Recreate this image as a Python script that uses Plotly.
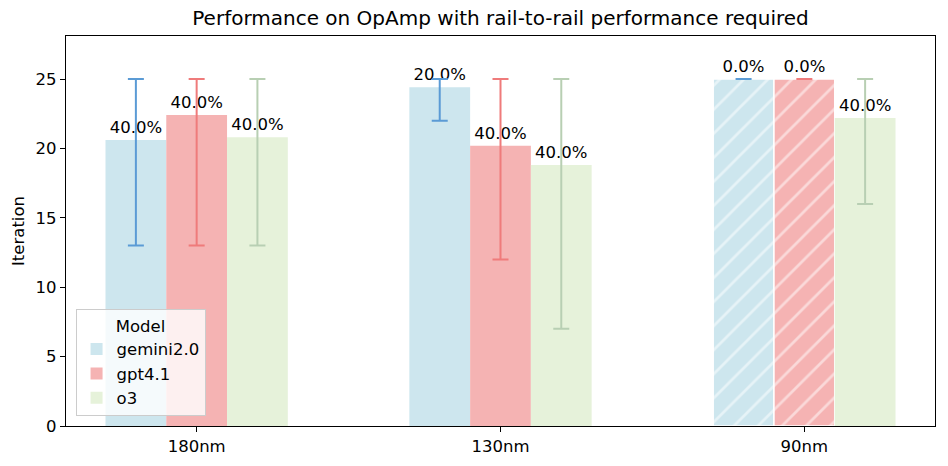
import plotly.graph_objects as go

categories = ["180nm", "130nm", "90nm"]
models = ["gemini2.0", "gpt4.1", "o3"]

mean_iter = {
    "gemini2.0": [20.6, 24.4, 25.0],
    "gpt4.1": [22.4, 20.2, 25.0],
    "o3": [20.8, 18.8, 22.2],
}
min_iter = {
    "gemini2.0": [13, 22, 25],
    "gpt4.1": [13, 12, 25],
    "o3": [13, 7, 16],
}
max_iter = {
    "gemini2.0": [25, 25, 25],
    "gpt4.1": [25, 25, 25],
    "o3": [25, 25, 25],
}
success_rate = {
    "gemini2.0": [40.0, 20.0, 0.0],
    "gpt4.1": [40.0, 40.0, 0.0],
    "o3": [40.0, 40.0, 40.0],
}

bar_colors = {"gemini2.0": "#cde6ee", "gpt4.1": "#f5b3b3", "o3": "#e6f2da"}
err_colors = {"gemini2.0": "#5b9bd5", "gpt4.1": "#ef7b7b", "o3": "#b8cfb3"}

font_family = "DejaVu Sans, Liberation Sans, sans-serif"
fs = 16.5

fig = go.Figure()
for m in models:
    vals = mean_iter[m]
    hatch = ["/" if r == 0 else "" for r in success_rate[m]]
    lw = [1.5 if r == 0 else 0 for r in success_rate[m]]
    fig.add_trace(go.Bar(
        name=m,
        x=categories,
        y=vals,
        width=0.2,
        marker=dict(
            color=bar_colors[m],
            line=dict(color="white", width=lw),
            pattern=dict(shape=hatch, fgcolor="white", size=17, solidity=0.16),
        ),
        error_y=dict(
            type="data", symmetric=False,
            array=[mx - v for mx, v in zip(max_iter[m], vals)],
            arrayminus=[v - mn for mn, v in zip(min_iter[m], vals)],
            color=err_colors[m], thickness=2, width=8,
        ),
        text=[f"{r:.1f}%" for r in success_rate[m]],
        textposition="outside",
        textfont=dict(size=fs, color="black", family=font_family),
        constraintext="none",
        cliponaxis=False,
    ))

fig.update_layout(
    width=948, height=466,
    barmode="group", bargap=0.4, bargroupgap=0,
    plot_bgcolor="white", paper_bgcolor="white",
    font=dict(family=font_family, size=fs, color="black"),
    margin=dict(l=66, r=13, t=36, b=40),
    title=dict(text="Performance on OpAmp with rail-to-rail performance required",
               x=0.5, xref="paper", xanchor="center", y=0.962, yanchor="middle",
               font=dict(size=20)),
    xaxis=dict(type="category", range=[-0.43, 2.43], showline=True, linecolor="black",
               linewidth=1.2, mirror=True, ticks="outside", ticklen=5, tickcolor="black",
               showgrid=False, automargin=False),
    yaxis=dict(range=[0, 28.1], showline=True, linecolor="black", linewidth=1.2, mirror=True,
               ticks="outside", ticklen=5, tickcolor="black", showgrid=False,
               tickvals=[0, 5, 10, 15, 20, 25], zeroline=False, automargin=False,
               title=dict(text="Iteration", font=dict(size=fs), standoff=6)),
    legend=dict(
        x=0.011, y=0.025, xanchor="left", yanchor="bottom",
        bgcolor="rgba(255,255,255,0.8)", bordercolor="#cccccc", borderwidth=1,
        title=dict(text="Model", side="top center", font=dict(size=fs)),
        font=dict(size=fs), traceorder="normal",
    ),
)

fig.write_html("out.html", config={"displayModeBar": False},
               post_script="document.body.style.margin='0';document.body.style.padding='0';")
